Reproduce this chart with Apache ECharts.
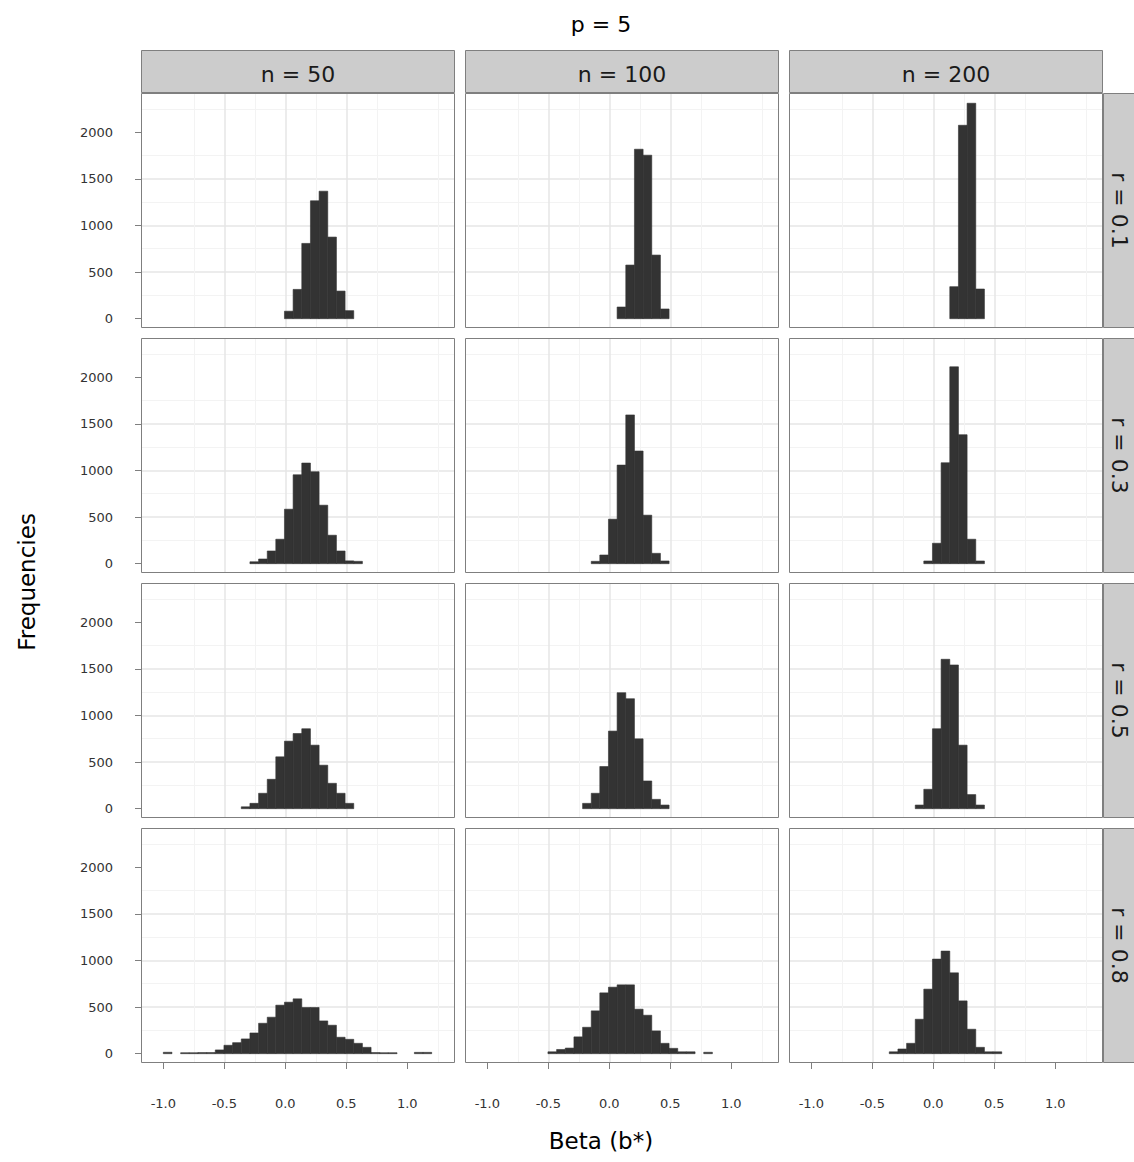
<!DOCTYPE html>
<html>
<head>
<meta charset="utf-8">
<title>p = 5</title>
<script src="https://cdn.jsdelivr.net/npm/echarts@6/dist/echarts.min.js"></script>
<style>
  html, body { margin: 0; padding: 0; background: #fff; }
  #chart { width: 1134px; height: 1162px; }
</style>
</head>
<body>
<div id="chart"></div>
<script>
// facet labels
const colLabels = ['n = 50', 'n = 100', 'n = 200'];
const rowLabels = ['r = 0.1', 'r = 0.3', 'r = 0.5', 'r = 0.8'];

// shared histogram bin edges (31 bins)
const binEdges = [-1.000, -0.929, -0.858, -0.787, -0.716, -0.645, -0.574, -0.503,
  -0.432, -0.361, -0.290, -0.219, -0.148, -0.078, -0.007, 0.064, 0.135, 0.206,
  0.277, 0.348, 0.419, 0.490, 0.561, 0.632, 0.703, 0.774, 0.845, 0.916, 0.987,
  1.058, 1.129, 1.200];

const xTicks = [-1.0, -0.5, 0.0, 0.5, 1.0];
const yTicks = [0, 500, 1000, 1500, 2000];

// counts per row: one array per column (n = 50, 100, 200), starting at firstBin
const firstBinR01 = [14, 15, 16];
const countsR01 = [
  [80, 314, 807, 1264, 1367, 875, 296, 86],
  [125, 575, 1817, 1753, 682, 104],
  [343, 2074, 2310, 318]
];
const firstBinR03 = [10, 12, 13];
const countsR03 = [
  [20, 50, 136, 262, 584, 953, 1079, 986, 627, 305, 136, 30, 25],
  [25, 93, 477, 1057, 1595, 1208, 520, 111, 29],
  [29, 219, 1082, 2111, 1383, 262, 29]
];
const firstBinR05 = [9, 11, 12];
const countsR05 = [
  [20, 57, 165, 315, 556, 724, 806, 857, 681, 466, 272, 165, 57],
  [57, 165, 452, 832, 1244, 1179, 749, 297, 100, 39],
  [39, 208, 857, 1602, 1541, 681, 151, 39]
];
const firstBinR08 = [0, 7, 9];
const countsR08 = [
  [15, 0, 10, 10, 12, 12, 40, 90, 118, 158, 222, 326, 391, 520, 552, 588, 495, 495,
   351, 305, 176, 154, 111, 68, 12, 10, 10, 0, 0, 14, 14],
  [20, 45, 60, 180, 283, 459, 652, 713, 738, 738, 477, 412, 244, 111, 57, 20, 20, 0, 15],
  [20, 50, 111, 369, 692, 1014, 1100, 867, 566, 262, 68, 20, 20]
];

const firstBins = [firstBinR01, firstBinR03, firstBinR05, firstBinR08];
const allCounts = [countsR01, countsR03, countsR05, countsR08];

// layout
const colLeft = [141, 465, 789];
const rowTop = [93, 338, 583, 828];
const panelW = 314;
const panelH = 235;
const xMin = -1.183, xMax = 1.391;
const yMin = -100, yMax = 2420;
const textFont = '"DejaVu Sans", Verdana, sans-serif';

const chart = echarts.init(document.getElementById('chart'), null, { renderer: 'svg' });

const grids = [], xAxes = [], yAxes = [], series = [], graphics = [];

function renderBin(params, api) {
  const p0 = api.coord([api.value(0), 0]);
  const p1 = api.coord([api.value(1), api.value(2)]);
  return {
    type: 'rect',
    shape: { x: p0[0], y: p1[1], width: p1[0] - p0[0], height: p0[1] - p1[1] },
    style: { fill: '#333333', stroke: '#333333', lineWidth: 0.6 }
  };
}

for (let r = 0; r < 4; r++) {
  for (let c = 0; c < 3; c++) {
    const idx = r * 3 + c;
    grids.push({ left: colLeft[c], top: rowTop[r], width: panelW, height: panelH });
    xAxes.push({
      gridIndex: idx, type: 'value', min: xMin, max: xMax, position: 'bottom',
      axisLine: { show: false, onZero: false },
      axisTick: { show: r === 3, length: 6, lineStyle: { color: '#7f7f7f' }, customValues: xTicks },
      axisLabel: {
        show: r === 3, customValues: xTicks, margin: 34,
        color: '#333333', fontSize: 13, fontFamily: textFont,
        formatter: v => v.toFixed(1)
      },
      splitLine: { show: true, showMinLine: false, showMaxLine: false, lineStyle: { color: '#e6e6e6', width: 1.5 } },
      minorTick: { show: false, splitNumber: 2 },
      minorSplitLine: { show: true, lineStyle: { color: '#f3f3f3', width: 1 } }
    });
    yAxes.push({
      gridIndex: idx, type: 'value', min: yMin, max: yMax, position: 'left',
      axisLine: { show: false, onZero: false },
      axisTick: { show: c === 0, length: 6, lineStyle: { color: '#7f7f7f' }, customValues: yTicks },
      axisLabel: {
        show: c === 0, customValues: yTicks, margin: 28,
        color: '#333333', fontSize: 13, fontFamily: textFont,
        formatter: v => String(v)
      },
      splitLine: { show: true, showMinLine: false, showMaxLine: false, lineStyle: { color: '#e6e6e6', width: 1.5 } },
      minorTick: { show: false, splitNumber: 2 },
      minorSplitLine: { show: true, lineStyle: { color: '#f3f3f3', width: 1 } }
    });
    const counts = allCounts[r][c];
    const start = firstBins[r][c];
    const data = [];
    counts.forEach((v, i) => {
      if (v > 0) data.push([binEdges[start + i], binEdges[start + i + 1], v]);
    });
    series.push({
      type: 'custom', xAxisIndex: idx, yAxisIndex: idx, clip: true,
      renderItem: renderBin, encode: { x: [0, 1], y: 2 }, data: data, z: 5
    });
    // panel border
    graphics.push({
      type: 'rect', z: 100, silent: true,
      shape: { x: colLeft[c] + 0.5, y: rowTop[r] + 0.5, width: panelW - 1, height: panelH - 1 },
      style: { fill: 'none', stroke: '#7f7f7f', lineWidth: 1 }
    });
  }
}

// column strips
colLabels.forEach((t, c) => {
  graphics.push({
    type: 'rect', z: 100, silent: true,
    shape: { x: colLeft[c] + 0.5, y: 50.5, width: panelW - 1, height: 42 },
    style: { fill: '#cccccc', stroke: '#7f7f7f', lineWidth: 1 }
  });
  graphics.push({
    type: 'text', z: 101, x: colLeft[c] + panelW / 2, y: 74,
    style: { text: t, fill: '#1a1a1a', font: '22px ' + textFont, align: 'center', verticalAlign: 'middle' }
  });
});

// row strips
rowLabels.forEach((t, r) => {
  graphics.push({
    type: 'rect', z: 100, silent: true,
    shape: { x: 1103.5, y: rowTop[r] + 0.5, width: 35, height: panelH - 1 },
    style: { fill: '#cccccc', stroke: '#7f7f7f', lineWidth: 1 }
  });
  graphics.push({
    type: 'text', z: 101, x: 1119, y: rowTop[r] + panelH / 2, rotation: -Math.PI / 2,
    style: { text: t, fill: '#1a1a1a', font: '22px ' + textFont, align: 'center', verticalAlign: 'middle' }
  });
});

// titles
graphics.push({
  type: 'text', x: 601, y: 24,
  style: { text: 'p = 5', fill: '#000', font: '22px ' + textFont, align: 'center', verticalAlign: 'middle' }
});
graphics.push({
  type: 'text', x: 601, y: 1141,
  style: { text: 'Beta (b*)', fill: '#000', font: '23px ' + textFont, align: 'center', verticalAlign: 'middle' }
});
graphics.push({
  type: 'text', x: 27, y: 582, rotation: Math.PI / 2,
  style: { text: 'Frequencies', fill: '#000', font: '23px ' + textFont, align: 'center', verticalAlign: 'middle' }
});

chart.setOption({
  backgroundColor: '#ffffff',
  animation: false,
  grid: grids,
  xAxis: xAxes,
  yAxis: yAxes,
  series: series,
  graphic: graphics
});

window.addEventListener('resize', function () {
  chart.resize();
});
</script>
</body>
</html>
